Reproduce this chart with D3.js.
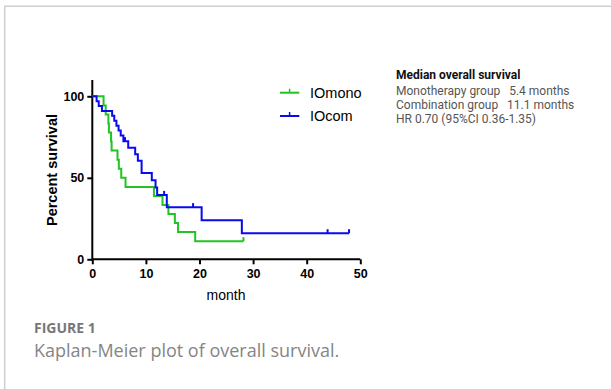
<!DOCTYPE html>
<html><head><meta charset="utf-8">
<script src="https://cdn.jsdelivr.net/npm/d3@7"></script>
<style>body{margin:0;background:#fff}svg{display:block}</style>
</head><body>
<script>
const xTicks = [0,10,20,30,40,50];
const yTicks = [0,50,100];
const seriesNames = ["IOmono","IOcom"];
// [time (months), percent survival] after each step
const monoSteps = [[0,100],[2.1,94.4],[2.5,88.9],[3.0,83.3],[3.1,77.8],[3.5,72.2],[3.6,66.7],[4.7,61.1],[4.95,55.6],[5.4,50],[6.2,44.4],[11.5,38.9],[13.1,33.3],[14.2,27.8],[15.4,22.2],[16.0,16.7],[19.2,11.1],[28.2,11.1]];
const monoCensor = [[28.2,11.1]];
const comSteps = [[0,100],[0.8,97],[1.2,94],[1.8,91],[3.7,88],[4.1,85],[4.5,82],[4.9,79],[5.3,76],[5.8,72.5],[6.7,68.5],[8.0,64.5],[8.5,60.5],[9.2,53],[11.1,48.5],[11.8,44],[12.1,39.5],[13.9,32],[20.4,24],[27.9,16],[47.9,16]];
const comCensor = [[6.1,72.5],[13.4,39.5],[18.8,32],[43.9,16],[47.9,16]];
const colors = ["#22c322","#0a0aee"];
const infoTitle = "Median overall survival";
const infoLines = ["Monotherapy group   5.4 months","Combination group   11.1 months","HR 0.70 (95%CI 0.36-1.35)"];

const W=611,H=389;
const svg=d3.select("body").append("svg").attr("width",W).attr("height",H);
// frame
svg.append("path").attr("d","M4.7,389 V6.3 H611").attr("fill","none").attr("stroke","#cfcfcf").attr("stroke-width",1.5);

const x=d3.scaleLinear().domain([0,50]).range([92.3,360.3]);
const y=d3.scaleLinear().domain([0,110]).range([259.3,80]);

const ax=svg.append("g").attr("transform","translate(0,259.3)")
  .call(d3.axisBottom(x).tickValues(xTicks).tickSize(5).tickPadding(5));
const ay=svg.append("g").attr("transform","translate(92.3,0)")
  .call(d3.axisLeft(y).tickValues(yTicks).tickSize(5).tickPadding(3));
[ax,ay].forEach(a=>{
  a.select(".domain").attr("stroke","#000").attr("stroke-width",2);
  a.selectAll(".tick line").attr("stroke","#000").attr("stroke-width",2);
  a.selectAll(".tick text").attr("fill","#000").style("font-family","Liberation Sans, Arial, sans-serif").style("font-weight","bold").style("font-size","12.5px");
});
ax.select(".domain").attr("d","M"+x(0)+",0H"+x(50));
ay.select(".domain").attr("d","M0,"+y(110)+"V"+y(0));

svg.append("text").attr("transform","translate(57,170) rotate(-90)").attr("text-anchor","middle")
  .style("font-family","Liberation Sans, Arial, sans-serif").style("font-weight","bold").style("font-size","14.5px").text("Percent survival");
svg.append("text").attr("x",226).attr("y",300).attr("text-anchor","middle")
  .style("font-family","Liberation Sans, Arial, sans-serif").style("font-size","14px").text("month");

const line=d3.line().x(d=>x(d[0])).y(d=>y(d[1])).curve(d3.curveStepAfter);
const plot=svg.append("g");
[[monoSteps,monoCensor],[comSteps,comCensor]].forEach(([s,c],i)=>{
  plot.append("path").datum(s).attr("d",line).attr("fill","none").attr("stroke",colors[i]).attr("stroke-width",2);
  plot.selectAll(null).data(c).enter().append("line")
    .attr("x1",d=>x(d[0])).attr("x2",d=>x(d[0])).attr("y1",d=>y(d[1])).attr("y2",d=>y(d[1])-4)
    .attr("stroke",colors[i]).attr("stroke-width",2);
});

// legend
const lg=svg.append("g");
seriesNames.forEach((n,i)=>{
  const yy=92.7+i*23.3;
  lg.append("line").attr("x1",280).attr("x2",299.3).attr("y1",yy).attr("y2",yy).attr("stroke",colors[i]).attr("stroke-width",2);
  lg.append("line").attr("x1",289.6).attr("x2",289.6).attr("y1",yy).attr("y2",yy-4).attr("stroke",colors[i]).attr("stroke-width",1.5);
  lg.append("text").attr("x",310).attr("y",yy+4.8).style("font-family","Liberation Sans, Arial, sans-serif").style("font-size","14.5px").text(n);
});

// info text
svg.append("text").attr("x",396).attr("y",79).style("font-family","Roboto, sans-serif").style("font-weight","bold").style("font-size","12px").attr("fill","#111").text(infoTitle);
infoLines.forEach((t,i)=>{
  svg.append("text").attr("x",396).attr("y",95+i*14.2).attr("xml:space","preserve").style("white-space","pre")
    .style("font-family","Roboto, sans-serif").style("font-size","12px").attr("fill","#555").text(t);
});

// caption
svg.append("text").attr("x",34).attr("y",333).style("font-family","Open Sans, sans-serif").style("font-weight","bold").style("font-size","14px").attr("fill","#777").text("FIGURE 1");
svg.append("text").attr("x",34).attr("y",357).style("font-family","Open Sans, sans-serif").style("font-size","18px").attr("fill","#858585").text("Kaplan-Meier plot of overall survival.");
</script>
</body></html>
